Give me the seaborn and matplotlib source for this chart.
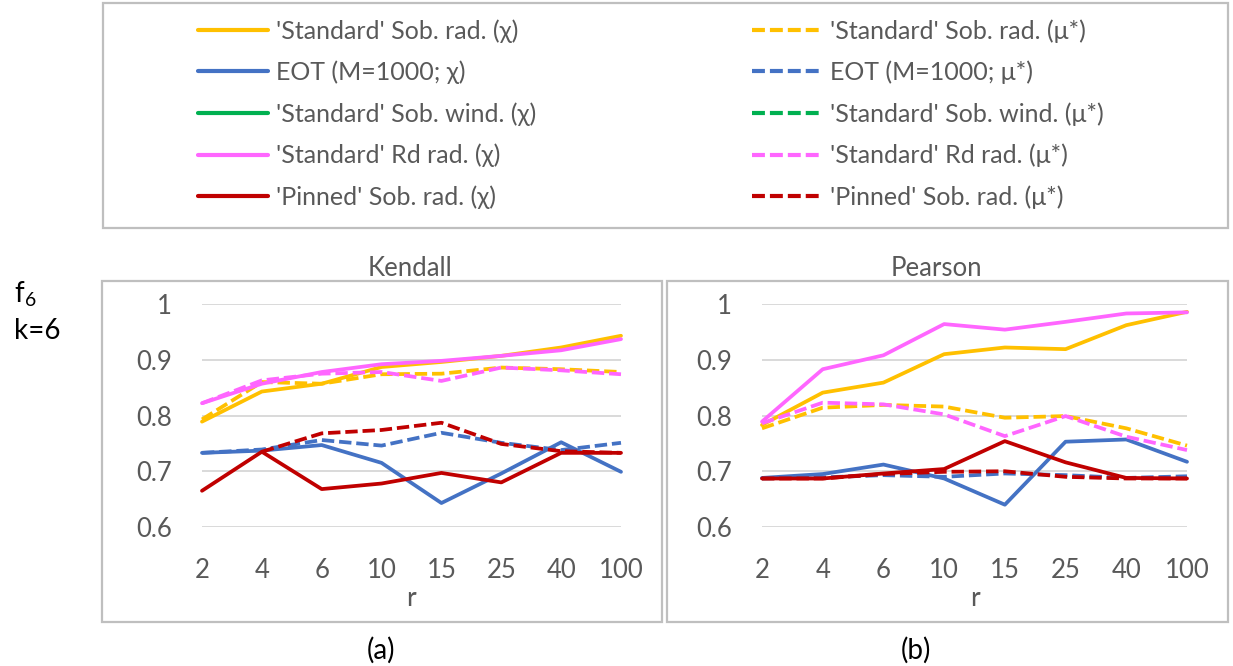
import numpy as np
import pandas as pd
import matplotlib
matplotlib.use("Agg")
import matplotlib.pyplot as plt
from matplotlib.lines import Line2D
from matplotlib.patches import Rectangle
import seaborn as sns

# ---------------- data ----------------
r_labels = ["2", "4", "6", "10", "15", "25", "40", "100"]

series_names = [
    "'Standard' Sob. rad.", "EOT (M=1000;", "'Standard' Sob. wind.",
    "'Standard' Rd rad.", "'Pinned' Sob. rad.",
]
colors = ["#FFC000", "#4472C4", "#00B050", "#FF66FF", "#C00000"]

# Kendall
k_std_sob_chi = [0.789, 0.843, 0.857, 0.887, 0.896, 0.907, 0.922, 0.943]
k_std_sob_mu = [0.793, 0.860, 0.857, 0.874, 0.875, 0.886, 0.883, 0.878]
k_eot_chi = [0.733, 0.737, 0.747, 0.715, 0.643, 0.696, 0.752, 0.699]
k_eot_mu = [0.733, 0.739, 0.756, 0.746, 0.769, 0.751, 0.738, 0.751]
k_rd_chi = [0.822, 0.857, 0.878, 0.892, 0.898, 0.907, 0.917, 0.937]
k_rd_mu = [0.822, 0.863, 0.875, 0.878, 0.862, 0.886, 0.881, 0.874]
k_pin_chi = [0.665, 0.735, 0.668, 0.678, 0.697, 0.680, 0.733, 0.733]
k_pin_mu = [np.nan, 0.735, 0.768, 0.774, 0.787, 0.749, 0.736, 0.733]

# Pearson
p_std_sob_chi = [0.783, 0.841, 0.859, 0.910, 0.922, 0.919, 0.962, 0.986]
p_std_sob_mu = [0.777, 0.814, 0.819, 0.816, 0.796, 0.799, 0.777, 0.746]
p_eot_chi = [0.688, 0.695, 0.712, 0.687, 0.640, 0.753, 0.757, 0.717]
p_eot_mu = [0.687, 0.689, 0.693, 0.690, 0.696, 0.693, 0.688, 0.691]
p_rd_chi = [0.789, 0.883, 0.908, 0.964, 0.954, 0.968, 0.983, 0.985]
p_rd_mu = [0.786, 0.823, 0.820, 0.802, 0.763, 0.799, 0.762, 0.738]
p_pin_chi = [0.687, 0.687, 0.696, 0.704, 0.754, 0.716, 0.688, 0.687]
p_pin_mu = [0.687, 0.687, 0.695, 0.699, 0.700, 0.690, 0.687, 0.687]

y_ticks = [0.6, 0.7, 0.8, 0.9, 1.0]
y_tick_labels = ["0.6", "0.7", "0.8", "0.9", "1"]

# ---------------- style ----------------
sns.set_theme(style="white")
plt.rcParams["font.family"] = ["Lato", "DejaVu Sans"]
GRAY = "#595959"
FRAME = "#BFBFBF"
LW = 2.7
DASH = (3.3, 1.3)
TICK_FS = 18.5

W, H = 1233, 666
fig = plt.figure(figsize=(W / 100, H / 100), dpi=100)


def fx(px):
    return px / W


def fy(py):
    return 1 - py / H


def frame(x0, y0, x1, y1):
    fig.add_artist(Rectangle((fx(x0), fy(y1)), fx(x1) - fx(x0), fy(y0) - fy(y1),
                             transform=fig.transFigure, fill=False,
                             ec=FRAME, lw=1.6, zorder=0))


frame(103, 3, 1228, 228)
frame(102, 281, 662, 622)
frame(667, 281, 1228, 622)


def make_axes(x_left, x_right, y_top, y_bot):
    return fig.add_axes([fx(x_left), fy(y_bot), fx(x_right) - fx(x_left),
                         fy(y_top) - fy(y_bot)])


axK = make_axes(202, 621, 304, 527)
axP = make_axes(762, 1187, 304, 527)

kendall = [(k_std_sob_chi, k_std_sob_mu), (k_eot_chi, k_eot_mu), (None, None),
           (k_rd_chi, k_rd_mu), (k_pin_chi, k_pin_mu)]
pearson = [(p_std_sob_chi, p_std_sob_mu), (p_eot_chi, p_eot_mu), (None, None),
           (p_rd_chi, p_rd_mu), (p_pin_chi, p_pin_mu)]

xpos = np.arange(len(r_labels))


def draw(ax, data):
    z = 3
    for (chi, mu), c in zip(data, colors):
        if chi is not None:
            sns.lineplot(x=xpos, y=chi, ax=ax, color=c, lw=LW, zorder=z,
                         clip_on=False)
            z += 1
        if mu is not None:
            sns.lineplot(x=xpos, y=mu, ax=ax, color=c, lw=LW, zorder=z,
                         clip_on=False)
            ax.lines[-1].set_dashes(DASH)
            z += 1
    ax.set_xlim(0, len(r_labels) - 1)
    ax.set_ylim(0.6, 1.0)
    ax.set_yticks(y_ticks)
    ax.set_yticklabels(y_tick_labels)
    ax.set_xticks(xpos)
    ax.set_xticklabels(r_labels)
    ax.grid(axis="y", color="#D9D9D9", lw=1.4, zorder=0)
    ax.set_axisbelow(True)
    for s in ax.spines.values():
        s.set_visible(False)
    ax.tick_params(axis="x", length=0, pad=22, labelsize=TICK_FS, labelcolor=GRAY)
    ax.tick_params(axis="y", length=0, pad=21.5, labelsize=TICK_FS, labelcolor=GRAY)
    ax.set_facecolor("none")
    ax.set_xlabel("")
    ax.set_ylabel("")


draw(axK, kendall)
draw(axP, pearson)

# titles and labels
fig.text(fx(410), fy(268), "Kendall", ha="center", va="center", fontsize=18.5, color=GRAY)
fig.text(fx(936), fy(268), "Pearson", ha="center", va="center", fontsize=18.5, color=GRAY)
fig.text(fx(411), fy(598), "r", ha="center", va="center", fontsize=19, color=GRAY)
fig.text(fx(975), fy(598), "r", ha="center", va="center", fontsize=19, color=GRAY)
fig.text(fx(381), fy(650), "(a)", ha="center", va="center", fontsize=20, color="black")
fig.text(fx(916), fy(650), "(b)", ha="center", va="center", fontsize=20, color="black")
fig.text(fx(14), fy(294), r"f$_{\mathregular{6}}$", ha="left", va="center", fontsize=20, color="black")
fig.text(fx(14), fy(331), "k=6", ha="left", va="center", fontsize=20, color="black")

# legend (two columns)
solid_h, solid_l, dash_h, dash_l = [], [], [], []
for name, c in zip(series_names, colors):
    eot = name.startswith("EOT")
    solid_h.append(Line2D([], [], color=c, lw=3.0))
    solid_l.append(name + (" χ)" if eot else " (χ)"))
    dash_h.append(Line2D([], [], color=c, lw=3.0, dashes=(3.1, 1.2)))
    dash_l.append(name + (" μ*)" if eot else " (μ*)"))

leg_kw = dict(frameon=False, fontsize=18, labelcolor=GRAY, handlelength=2.8,
              handletextpad=0.3, labelspacing=0.72, borderpad=0, borderaxespad=0,
              loc="upper left")
fig.legend(solid_h, solid_l, bbox_to_anchor=(fx(198), fy(19)), **leg_kw)
fig.legend(dash_h, dash_l, bbox_to_anchor=(fx(752), fy(19)), **leg_kw)

fig.savefig("out.png", dpi=100)
